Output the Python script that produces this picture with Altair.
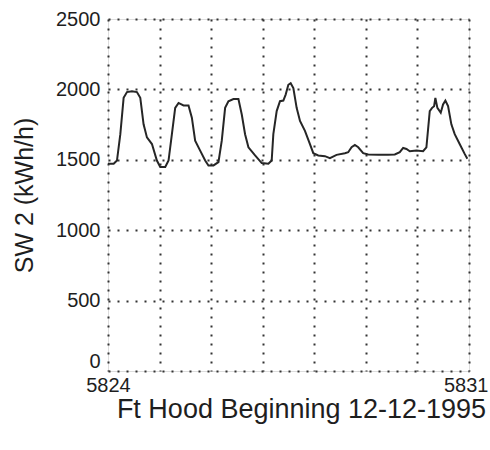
import altair as alt
import pandas as pd

days = [5824.000, 5824.110, 5824.174, 5824.239, 5824.303, 5824.368, 5824.465, 5824.561,
        5824.626, 5824.690, 5824.755, 5824.852, 5824.948, 5825.013, 5825.110, 5825.174,
        5825.239, 5825.303, 5825.368, 5825.465, 5825.561, 5825.626, 5825.690, 5825.787,
        5825.884, 5825.948, 5826.045, 5826.142, 5826.206, 5826.271, 5826.335, 5826.432,
        5826.529, 5826.594, 5826.658, 5826.723, 5826.852, 5826.981, 5827.110, 5827.174,
        5827.206, 5827.271, 5827.335, 5827.400, 5827.445, 5827.497, 5827.542, 5827.594,
        5827.658, 5827.723, 5827.819, 5827.916, 5827.981, 5828.077, 5828.206, 5828.303,
        5828.432, 5828.594, 5828.658, 5828.723, 5828.787, 5828.852, 5828.948, 5829.045,
        5829.239, 5829.432, 5829.561, 5829.658, 5829.723, 5829.787, 5829.852, 5829.981,
        5830.110, 5830.174, 5830.239, 5830.284, 5830.323, 5830.348, 5830.387, 5830.452,
        5830.497, 5830.542, 5830.594, 5830.658, 5830.723, 5830.819, 5830.916, 5830.968]

load = [1472, 1472, 1495, 1682, 1940, 1981, 1986, 1981,
        1940, 1752, 1659, 1612, 1495, 1449, 1449, 1495,
        1682, 1869, 1904, 1886, 1886, 1799, 1636, 1565,
        1495, 1460, 1460, 1484, 1636, 1869, 1916, 1932,
        1932, 1822, 1682, 1589, 1531, 1477, 1472, 1495,
        1682, 1846, 1916, 1921, 1963, 2033, 2044, 2009,
        1869, 1776, 1706, 1612, 1547, 1531, 1526, 1512,
        1535, 1547, 1554, 1589, 1605, 1589, 1547, 1538,
        1535, 1535, 1538, 1554, 1584, 1577, 1561, 1566,
        1561, 1589, 1846, 1869, 1881, 1939, 1869, 1834,
        1893, 1921, 1881, 1752, 1682, 1612, 1542, 1507]

x_ticks = [5824, 5825, 5826, 5827, 5828, 5829, 5830, 5831]
y_ticks = [0, 500, 1000, 1500, 2000, 2500]

df = pd.DataFrame({"day": days, "load": load})

FONT = "Liberation Sans"
INK = "#1e1e1e"

chart = alt.Chart(df).mark_line(color="#262626", strokeWidth=2).encode(
    x=alt.X("day:Q",
            scale=alt.Scale(domain=[5824, 5831], nice=False, zero=False),
            axis=alt.Axis(values=x_ticks, title="Ft Hood Beginning 12-12-1995",
                          labelExpr="(datum.value == 5824 || datum.value == 5831) ? datum.label : ''",
                          format="d", grid=True, gridDash=[2, 7], gridColor="#333",
                          gridWidth=2, ticks=False, domain=False,
                          labelFont=FONT, labelFontSize=20, labelColor=INK,
                          labelPadding=4, labelFlush=False,
                          labelAlign={"condition": {"test": "datum.value == 5831", "value": "right"},
                                      "value": "center"},
                          labelOffset={"condition": {"test": "datum.value == 5831", "value": 19},
                                       "value": 0},
                          titleFont=FONT, titleFontSize=27, titleFontWeight="normal",
                          titleColor=INK, titleX=193, titleY=46,
                          titleBaseline="alphabetic")),
    y=alt.Y("load:Q",
            scale=alt.Scale(domain=[0, 2500], nice=False),
            axis=alt.Axis(values=y_ticks, title="SW 2 (kWh/h)", format="d",
                          grid=True, gridDash=[2, 7], gridColor="#333", gridWidth=2,
                          ticks=False, domain=False,
                          labelFont=FONT, labelFontSize=20, labelColor=INK,
                          labelPadding=8,
                          labelBaseline={"condition": {"test": "datum.value == 0", "value": "bottom"},
                                         "value": "middle"},
                          titleFont=FONT, titleFontSize=25, titleFontWeight="normal",
                          titleColor=INK, titlePadding=18)),
).properties(
    width=361, height=352,
    autosize=alt.AutoSizeParams(type="none"),
    padding={"left": 108, "top": 19, "right": 21, "bottom": 79},
).configure_view(stroke="#222", strokeWidth=2).configure(background="white")

chart.save("out.html", embed_options={"renderer": "svg", "actions": False})
